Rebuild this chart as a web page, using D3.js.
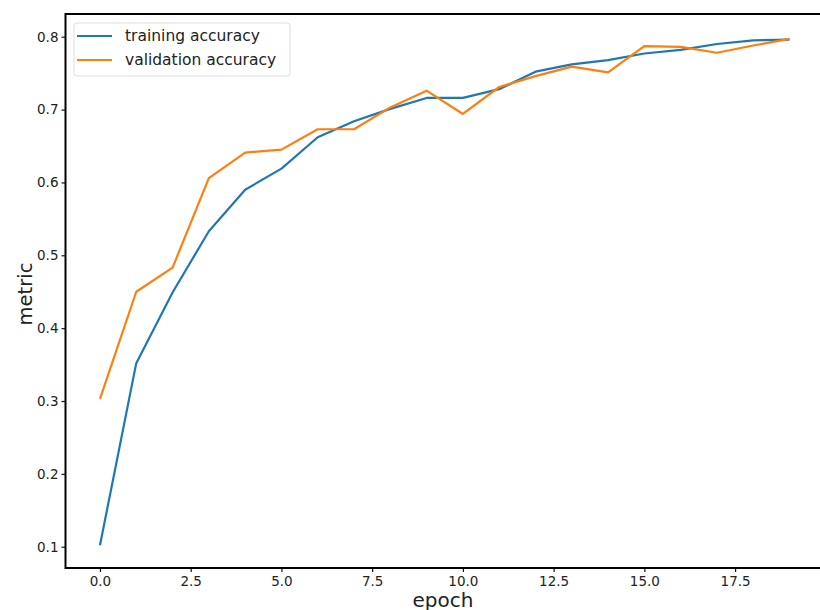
<!DOCTYPE html>
<html>
  <head>
    <script src="https://d3js.org/d3.v7.min.js"></script>
  </head>
  <body>
    <svg id="viz" width="820" height="610"></svg>
  </body>
  <script>
    const epochs = d3.range(0, 20);
    const trainingAccuracy = [
      0.102, 0.352, 0.449, 0.533, 0.59, 0.619, 0.662, 0.684, 0.701, 0.716,
      0.716, 0.728, 0.752, 0.762, 0.768, 0.777, 0.782, 0.79, 0.795, 0.796,
    ];
    const validationAccuracy = [
      0.303, 0.45, 0.483, 0.606, 0.641, 0.645, 0.673, 0.673, 0.703, 0.726,
      0.694, 0.731, 0.746, 0.759, 0.751, 0.787, 0.786, 0.778, 0.788, 0.797,
    ];
    const xTicks = [0, 2.5, 5, 7.5, 10, 12.5, 15, 17.5];
    const yTicks = [0.1, 0.2, 0.3, 0.4, 0.5, 0.6, 0.7, 0.8];
    const seriesNames = ["training accuracy", "validation accuracy"];
    const colors = ["#1f77b4", "#ff7f0e"];

    function draw() {
      const svg = d3.select("svg#viz");
      const left = 65.5, right = 824, top = 14, bottom = 568;
      const font = "'DejaVu Sans', sans-serif";

      const xScale = d3.scaleLinear().domain([-0.95, 19.95]).range([left, right]);
      const yScale = d3.scaleLinear().domain([0.0708, 0.8312]).range([bottom, top]);

      svg.append("rect").attr("width", 820).attr("height", 610).attr("fill", "white");

      // axes
      const xAxis = svg.append("g")
        .attr("transform", `translate(0,${bottom})`)
        .call(d3.axisBottom(xScale).tickValues(xTicks).tickFormat(d3.format(".1f")).tickSize(4).tickPadding(4).tickSizeOuter(0));
      const yAxis = svg.append("g")
        .attr("transform", `translate(${left},0)`)
        .call(d3.axisLeft(yScale).tickValues(yTicks).tickFormat(d3.format(".1f")).tickSize(4).tickPadding(3).tickSizeOuter(0));
      [xAxis, yAxis].forEach((g) => {
        g.select(".domain").remove();
        g.selectAll("text").attr("font-family", font).attr("font-size", 13.5).attr("fill", "#222");
        g.selectAll("line").attr("stroke", "#111").attr("stroke-width", 1.2);
      });

      // lines
      const series = [trainingAccuracy, validationAccuracy];
      const line = d3.line().x((d, i) => xScale(epochs[i])).y((d) => yScale(d));
      svg.selectAll("path.series")
        .data(series)
        .join("path")
        .attr("class", "series")
        .attr("d", line)
        .attr("fill", "none")
        .attr("stroke", (d, i) => colors[i])
        .attr("stroke-width", 2.2)
        .attr("stroke-linejoin", "round");

      // frame
      svg.append("rect")
        .attr("x", left).attr("y", top)
        .attr("width", right - left).attr("height", bottom - top)
        .attr("fill", "none").attr("stroke", "black").attr("stroke-width", 2);

      // legend
      const legend = svg.append("g");
      legend.append("rect")
        .attr("x", 74).attr("y", 23).attr("width", 216).attr("height", 53)
        .attr("rx", 3).attr("fill", "white").attr("fill-opacity", 0.8)
        .attr("stroke", "#ddd").attr("stroke-width", 1);
      seriesNames.forEach((name, i) => {
        const y = 36 + i * 24;
        legend.append("line")
          .attr("x1", 77).attr("x2", 112).attr("y1", y).attr("y2", y)
          .attr("stroke", colors[i]).attr("stroke-width", 2.2);
        legend.append("text")
          .attr("x", 125).attr("y", y).attr("dy", "0.35em")
          .attr("font-family", font).attr("font-size", 15.5).attr("fill", "#222")
          .text(name);
      });

      // axis labels
      svg.append("text")
        .attr("x", 443).attr("y", 606.5).attr("text-anchor", "middle")
        .attr("font-family", font).attr("font-size", 20).attr("fill", "#222")
        .text("epoch");
      svg.append("text")
        .attr("transform", "translate(32,294) rotate(-90)").attr("text-anchor", "middle")
        .attr("font-family", font).attr("font-size", 19.5).attr("fill", "#222")
        .text("metric");
    }

    draw();
  </script>
  <style>
    body {
      margin: 0px;
      overflow: hidden;
    }
  </style>
</html>
